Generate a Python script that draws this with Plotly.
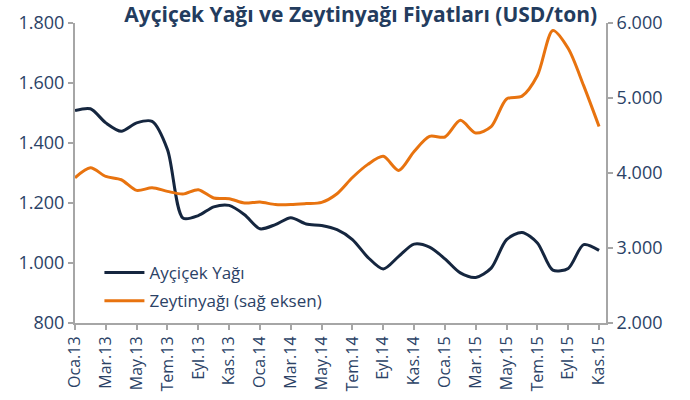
import plotly.graph_objects as go

months = ["Oca.13","Şub.13","Mar.13","Nis.13","May.13","Haz.13","Tem.13","Ağu.13","Eyl.13","Eki.13","Kas.13","Ara.13",
          "Oca.14","Şub.14","Mar.14","Nis.14","May.14","Haz.14","Tem.14","Ağu.14","Eyl.14","Eki.14","Kas.14","Ara.14",
          "Oca.15","Şub.15","Mar.15","Nis.15","May.15","Haz.15","Tem.15","Ağu.15","Eyl.15","Eki.15","Kas.15"]

aycicek = [1508, 1514, 1467, 1439, 1467, 1472, 1378, 1150, 1158, 1187, 1192, 1161,
           1114, 1128, 1151, 1130, 1125, 1111, 1078, 1019, 980, 1022, 1063, 1053,
           1014, 967, 952, 983, 1078, 1102, 1067, 976, 982, 1061, 1042]

zeytin = [3936, 4069, 3954, 3910, 3768, 3804, 3755, 3719, 3778, 3666, 3658, 3600,
          3613, 3579, 3579, 3592, 3609, 3724, 3940, 4115, 4222, 4035, 4288, 4488,
          4480, 4702, 4533, 4618, 4987, 5025, 5300, 5900, 5660, 5165, 4620]

tick_labels = months[::2]

x = list(range(len(months)))
tickvals = x[::2]

navy = "#15263f"
orange = "#e8730f"
txt = "#2b4266"
axis_col = "#a6a6a6"
font_family = "Open Sans, Noto Sans, sans-serif"

fig = go.Figure()
fig.add_trace(go.Scatter(x=x, y=aycicek, name="Ayçiçek Yağı", mode="lines", legendgroup="a",
                         line=dict(color=navy, width=3, shape="spline", smoothing=0.8)))
fig.add_trace(go.Scatter(x=x, y=zeytin, name="Zeytinyağı (sağ eksen)", mode="lines", yaxis="y2",
                         legendgroup="b",
                         line=dict(color=orange, width=3, shape="spline", smoothing=0.8)))

fig.update_layout(
    width=690, height=400,
    margin=dict(l=75, r=84, t=23, b=77, autoexpand=False),
    paper_bgcolor="white", plot_bgcolor="white",
    separators=",.",
    font=dict(family=font_family, color=txt, size=16),
    title=dict(text="<b>Ayçiçek Yağı ve Zeytinyağı Fiyatları (USD/ton)</b>",
               xref="paper", x=0.538, xanchor="center",
               yref="container", y=0.964, yanchor="middle", automargin=False,
               font=dict(size=21, color="#233c5e", family=font_family)),
    xaxis=dict(range=[0, 34.45], tickvals=tickvals, ticktext=tick_labels, tickangle=-90,
               automargin=False,
               showgrid=False, zeroline=False, showline=True, linecolor=axis_col, linewidth=2,
               ticks="outside", ticklen=5, tickcolor=axis_col, tickwidth=2,
               tickfont=dict(size=16, color=txt)),
    yaxis=dict(range=[800, 1800], dtick=200, tickformat=",d", showgrid=False, zeroline=False,
               automargin=False,
               showline=True, linecolor=axis_col, linewidth=2, ticks="outside", ticklen=5,
               tickcolor=axis_col, tickwidth=2, tickfont=dict(size=18, color=txt)),
    yaxis2=dict(range=[2000, 6000], dtick=1000, tickformat=",d", overlaying="y", side="right",
                automargin=False,
                showgrid=False, zeroline=False, showline=True, linecolor=axis_col, linewidth=2,
                ticks="outside", ticklen=5, tickcolor=axis_col, tickwidth=2,
                tickfont=dict(size=18, color=txt)),
    legend=dict(x=0.046, y=0.12, xanchor="left", yanchor="middle", bgcolor="rgba(0,0,0,0)",
                font=dict(size=17, color=txt), tracegroupgap=3, itemwidth=40),
    showlegend=True,
)

fig.write_html("out.html", config={"displayModeBar": False},
               post_script="document.body.style.margin='0';")
